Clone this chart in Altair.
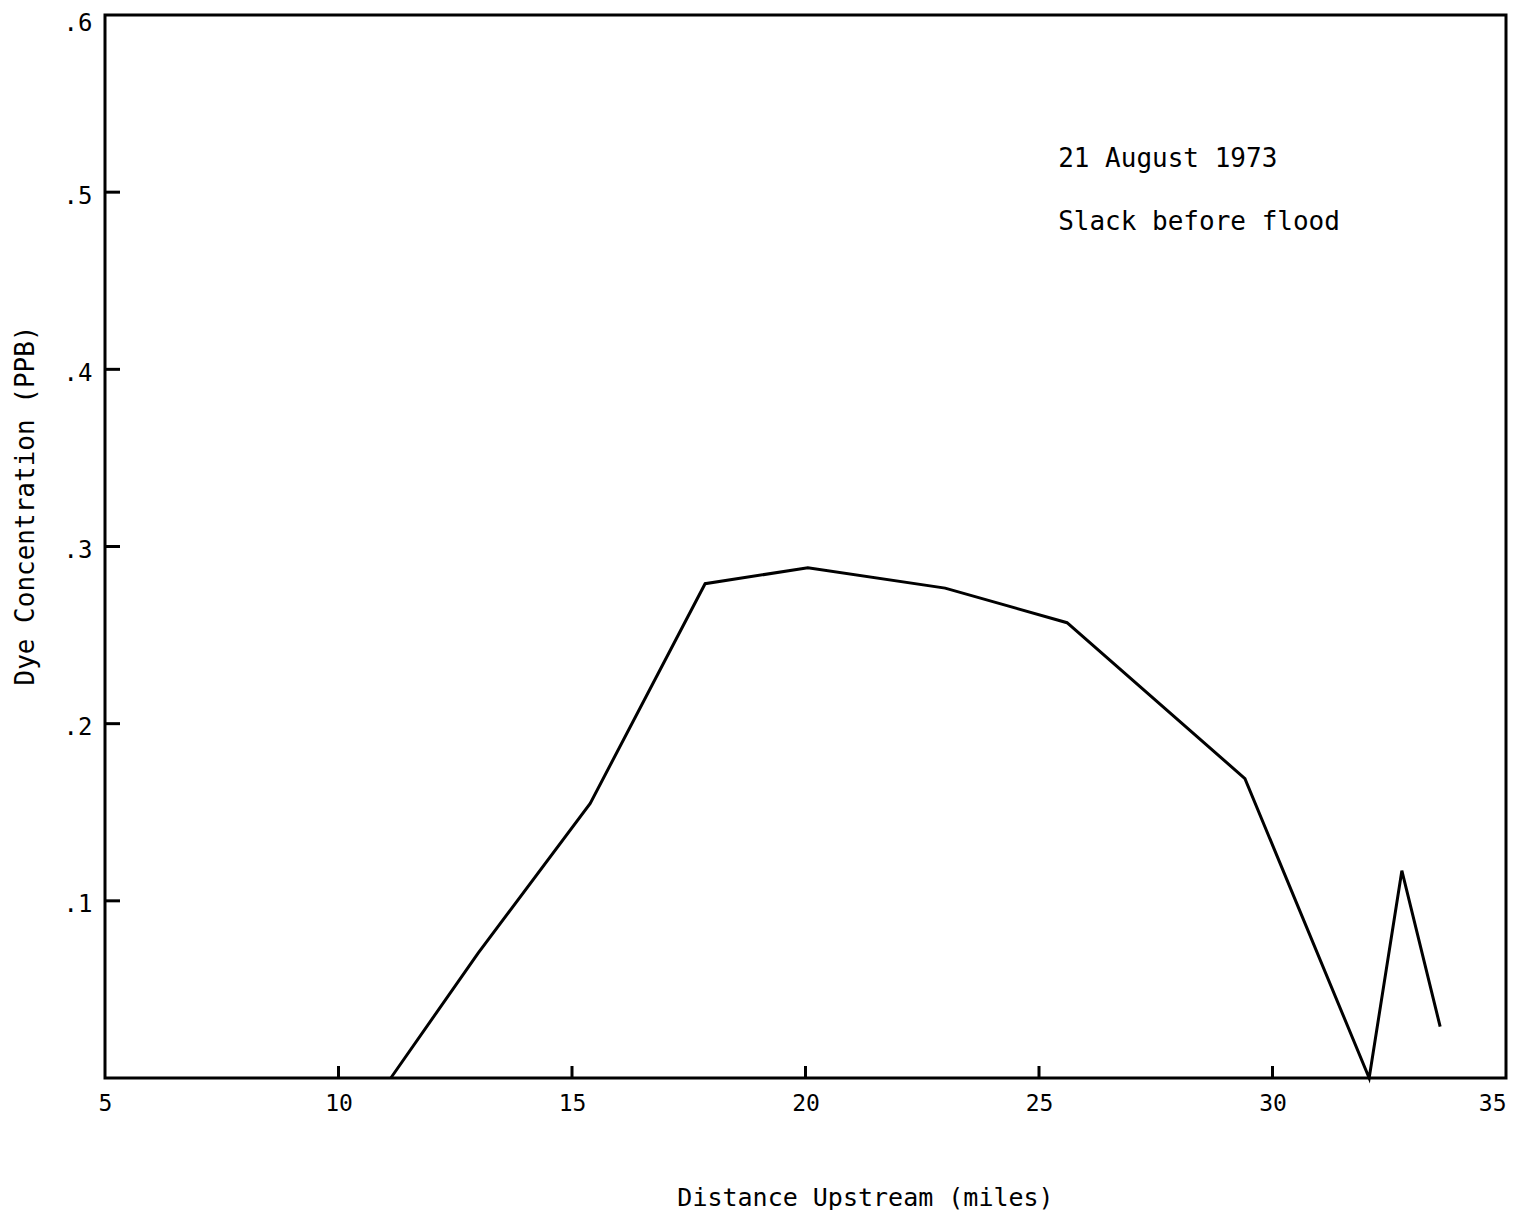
import altair as alt
import pandas as pd

# Data
distance = [11.12, 12.99, 15.39, 17.85, 20.05, 22.99, 25.6, 29.41, 32.07, 32.77, 33.59]
concentration = [0.0, 0.0705, 0.155, 0.279, 0.288, 0.2765, 0.257, 0.169, 0.0, 0.117, 0.029]

x_ticks = [10, 15, 20, 25, 30]
y_ticks = [0.1, 0.2, 0.3, 0.4, 0.5]

notes = ["21 August 1973", "Slack before flood"]
note_x = [25.41, 25.41]
note_y = [0.519, 0.483]

FONT = "DejaVu Sans Mono"

df = pd.DataFrame({"d": distance, "c": concentration})
xt = pd.DataFrame({"d": x_ticks})
yt = pd.DataFrame({"c": y_ticks})
nt = pd.DataFrame({"t": notes, "d": note_x, "c": note_y})

xscale = alt.Scale(domain=[5, 35], nice=False, zero=False)
yscale = alt.Scale(domain=[0, 0.6], nice=False)

line = alt.Chart(df).mark_line(color="black", strokeWidth=3).encode(
    x=alt.X("d:Q", scale=xscale,
            axis=alt.Axis(title="Distance Upstream (miles)", values=[5, 10, 15, 20, 25, 30, 35],
                          grid=False, ticks=False, domain=False, labelFlush=False,
                          labelAlign=alt.ExprRef("datum.value == 35 ? 'right' : 'center'"),
                          labelFont=FONT, labelFontSize=23, labelColor="black", labelPadding=14,
                          titleFont=FONT, titleFontSize=25, titleFontWeight="normal", titleColor="black",
                          titleX=760, titleY=119, titleBaseline="middle", titleAlign="center")),
    y=alt.Y("c:Q", scale=yscale,
            axis=alt.Axis(title="Dye Concentration (PPB)", values=[0, 0.1, 0.2, 0.3, 0.4, 0.5, 0.6],
                          labelExpr="datum.value == 0 ? '' : replace(format(datum.value, '.1f'), '0.', '.')",
                          grid=False, ticks=False, domain=False, labelFlush=False,
                          labelFont=FONT, labelFontSize=24, labelColor="black", labelPadding=13,
                          labelOffset=alt.ExprRef("datum.value > 0.55 ? 8 : 4"),
                          titleFont=FONT, titleFontSize=26, titleFontWeight="normal", titleColor="black",
                          titleX=-80, titleY=490, titleAngle=270, titleBaseline="middle", titleAlign="center")),
)

xtick = alt.Chart(xt).mark_rule(color="black", strokeWidth=3).encode(
    x=alt.X("d:Q", scale=xscale),
    y=alt.value(1063),
    y2=alt.value(1051),
)

ytick = alt.Chart(yt).mark_rule(color="black", strokeWidth=3).encode(
    y=alt.Y("c:Q", scale=yscale),
    x=alt.value(0),
    x2=alt.value(15),
)

text = alt.Chart(nt).mark_text(align="left", baseline="middle", font=FONT, fontSize=26, color="black").encode(
    x=alt.X("d:Q", scale=xscale),
    y=alt.Y("c:Q", scale=yscale),
    text="t:N",
)

chart = alt.layer(line, xtick, ytick, text).properties(
    width=1401,
    height=1063,
    background="white",
    autosize=alt.AutoSizeParams(type="none"),
    padding={"left": 97, "top": 7, "right": 6, "bottom": 132},
).configure_view(
    stroke="black", strokeWidth=3
)

chart.save("out.html", embed_options={"renderer": "svg", "actions": False})
